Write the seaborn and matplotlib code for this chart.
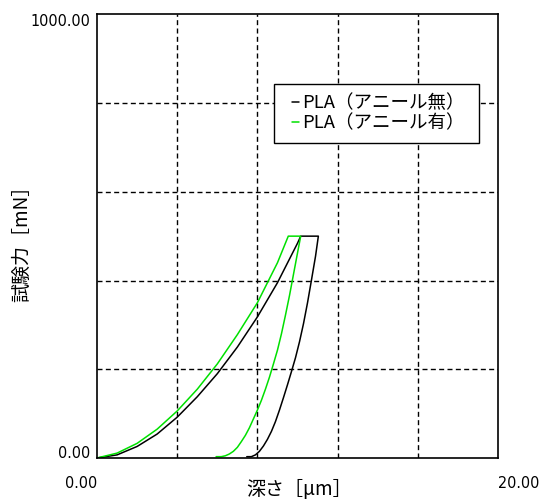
import numpy as np
import pandas as pd
import matplotlib
matplotlib.use("Agg")
import matplotlib.pyplot as plt
import seaborn as sns

# 押し込み試験の荷重-深さ曲線
series_names = ["PLA（アニール無）", "PLA（アニール有）"]

black_load_depth = [0, 1, 2, 3, 4, 5, 6, 7, 8, 9, 10, 10.16]
black_load_force = [0, 7, 26, 54, 92, 138, 190, 250, 318, 395, 484, 500]
black_unload_depth = [11.04, 10.9, 10.7, 10.5, 10.3, 10.1, 9.9, 9.7, 9.5, 9.3,
                      9.1, 8.9, 8.7, 8.5, 8.3, 8.1, 7.9, 7.7, 7.47]
black_unload_force = [500, 455, 402, 350, 303, 262, 226, 195, 165, 136,
                      108, 82, 60, 42, 27, 15, 7, 3, 3]

green_load_depth = [0, 1, 2, 3, 4, 5, 6, 7, 8, 9, 9.54]
green_load_force = [0, 11, 33, 65, 106, 155, 212, 278, 350, 440, 500]
green_unload_depth = [10.16, 10.0, 9.8, 9.6, 9.4, 9.2, 9.0, 8.8, 8.6, 8.4, 8.2,
                      8.0, 7.8, 7.6, 7.4, 7.2, 7.0, 6.8, 6.6, 6.4, 6.2, 5.94]
green_unload_force = [500, 462, 414, 366, 322, 280, 243, 212, 182, 155, 130,
                      108, 88, 68, 51, 37, 24, 15, 9, 5, 3, 3]

x_ticks = [0, 20]
y_ticks = [0, 1000]
x_grid = [4, 8, 12, 16]
y_grid = [200, 400, 600, 800]

colors = {series_names[0]: "black", series_names[1]: "#00e000"}


def build_frame():
    rows = []
    for name, d, f in [
        (series_names[0], black_load_depth + black_unload_depth,
         black_load_force + black_unload_force),
        (series_names[1], green_load_depth + green_unload_depth,
         green_load_force + green_unload_force),
    ]:
        rows.append(pd.DataFrame({"depth": d, "force": f, "sample": name}))
    return pd.concat(rows, ignore_index=True)


sns.set_style("white")
plt.rcParams["font.family"] = ["Noto Sans CJK JP", "DejaVu Sans"]
plt.rcParams.update({"text.color": "black", "axes.labelcolor": "black",
                     "xtick.color": "black", "ytick.color": "black"})
num_font = dict(family="DejaVu Sans", stretch="condensed", fontsize=11.5)

df = build_frame()

fig = plt.figure(figsize=(5.39, 5.01), dpi=100)
ax = fig.add_axes([97 / 539, 1 - 458 / 501, 401 / 539, 443.7 / 501])

sns.lineplot(data=df, x="depth", y="force", hue="sample", sort=False,
             estimator=None, palette=colors, linewidth=1.1, legend=False, ax=ax)

ax.set_xlim(0, 20)
ax.set_ylim(0, 1000)

# 目盛りは両端のみ、グリッドは補助目盛りで描く
ax.set_xticks(x_ticks)
ax.set_yticks(y_ticks)
ax.set_xticklabels([f"{v:.2f}" for v in x_ticks], **num_font)
ax.set_yticklabels([f"{v:.2f}" for v in y_ticks], **num_font)
ax.xaxis.get_ticklabels()[0].set_ha("right")
ax.xaxis.get_ticklabels()[1].set_ha("left")
ax.yaxis.get_ticklabels()[0].set_va("baseline")
ax.yaxis.get_ticklabels()[1].set_va("top")
ax.tick_params(axis="x", length=0, pad=13)
ax.tick_params(axis="y", length=0, pad=5)

ax.set_xticks(x_grid, minor=True)
ax.set_yticks(y_grid, minor=True)
ax.tick_params(which="minor", length=0)
ax.grid(False)
ax.grid(which="minor", color="black", linestyle=(0, (3.6, 2.4)), linewidth=1.0)
ax.set_axisbelow(True)

for s in ax.spines.values():
    s.set_color("black")
    s.set_linewidth(1.2)

ax.set_xlabel("深さ［μm］", fontsize=13.7, va="center")
ax.set_ylabel("試験力［mN］", fontsize=13.7, va="center")
ax.xaxis.set_label_coords(0.503, -0.072)
ax.yaxis.set_label_coords(-0.187, 0.494)

# 凡例 (白い枠を先に置く)
ax.add_patch(plt.Rectangle((0.441, 0.710), 0.512, 0.133, transform=ax.transAxes,
                           facecolor="white", edgecolor="black", linewidth=1.0,
                           zorder=3))
leg = ax.legend(ax.lines[:2], series_names, loc="upper left",
                bbox_to_anchor=(0.4855, 0.819), borderaxespad=0, borderpad=0,
                frameon=False, fontsize=13.3, handlelength=0.4,
                handletextpad=0.15, labelspacing=0.1)
leg.set_zorder(4)

fig.savefig("out.png", dpi=100)
